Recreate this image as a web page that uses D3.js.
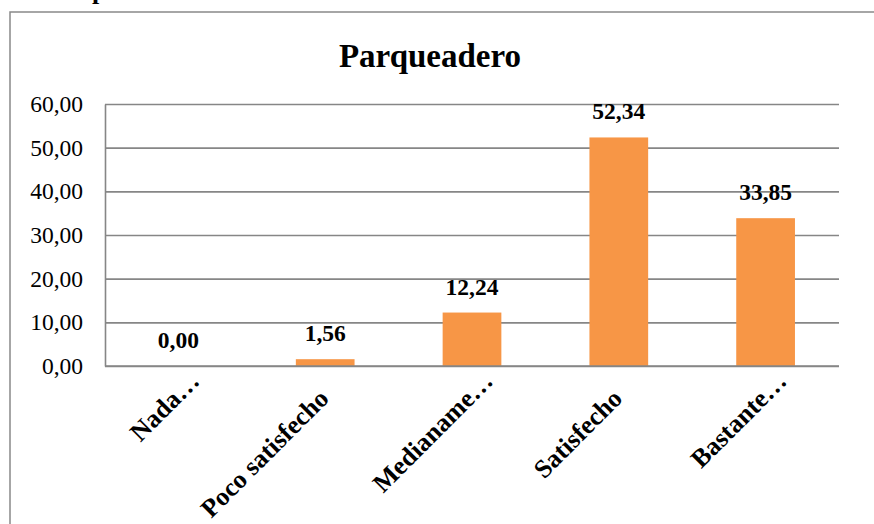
<!DOCTYPE html>
<html>
<head>
<meta charset="utf-8">
<script src="https://cdn.jsdelivr.net/npm/d3@7"></script>
<style>
  body { margin: 0; background: #fff; }
  text { font-family: "Liberation Serif", "Times New Roman", serif; }
</style>
</head>
<body>
<div id="chart"></div>
<script>
// data
var categories = ["Nada…", "Poco satisfecho", "Medianame…", "Satisfecho", "Bastante…"];
var values = [0.00, 1.56, 12.24, 52.34, 33.85];
var yTicks = [0, 10, 20, 30, 40, 50, 60];

var fmt = function(v) { return d3.format(".2f")(v).replace(".", ","); };

var W = 874, H = 524;
var margin = {top: 104, right: 35, bottom: 158, left: 105},
    width = W - margin.left - margin.right,
    height = H - margin.top - margin.bottom;

var svg = d3.select("#chart").append("svg")
    .attr("width", W)
    .attr("height", H);

// outer chart border (cut off at right / bottom)
svg.append("rect")
    .attr("x", 10).attr("y", 12)
    .attr("width", 900).attr("height", 600)
    .attr("fill", "none")
    .attr("stroke", "#898989")
    .attr("stroke-width", 1.5);

// cropped text above the chart
svg.append("text")
    .attr("x", 92).attr("y", -1)
    .style("font-size", "26px").style("font-weight", "bold")
    .text("p");

// title
svg.append("text")
    .attr("x", 430).attr("y", 67)
    .attr("text-anchor", "middle")
    .style("font-size", "33px").style("font-weight", "bold")
    .text("Parqueadero");

var g = svg.append("g")
    .attr("transform", "translate(" + margin.left + "," + margin.top + ")");

var x = d3.scaleBand().domain(categories).range([0, width]).paddingInner(0.6).paddingOuter(0.3);
var y = d3.scaleLinear().domain([0, 60]).range([height, 0]);

// gridlines
g.append("g")
    .call(d3.axisLeft(y).tickValues(yTicks).tickSize(-width).tickFormat(""))
    .call(function(s) { s.select(".domain").remove(); })
    .selectAll("line")
    .attr("stroke", "#868686").attr("stroke-width", 1.6);

// y axis labels
g.append("g")
    .call(d3.axisLeft(y).tickValues(yTicks).tickSize(0).tickPadding(22).tickFormat(fmt))
    .call(function(s) {
      s.select(".domain").attr("stroke", "#868686").attr("stroke-width", 1.6);
      s.selectAll("text")
        .attr("fill", "#000")
        .style("font-size", "23.5px")
        .style("font-family", "'Liberation Serif', 'Times New Roman', serif");
    });

// bars
g.selectAll(".bar")
    .data(values)
    .enter().append("rect")
    .attr("class", "bar")
    .attr("x", function(d, i) { return x(categories[i]); })
    .attr("y", function(d) { return y(d); })
    .attr("width", x.bandwidth())
    .attr("height", function(d) { return height - y(d); })
    .attr("fill", "#F79646");

// bottom axis line
g.append("line")
    .attr("x1", 0).attr("x2", width)
    .attr("y1", height).attr("y2", height)
    .attr("stroke", "#868686").attr("stroke-width", 1.6);

// value labels
g.selectAll(".val")
    .data(values)
    .enter().append("text")
    .attr("class", "val")
    .attr("x", function(d, i) { return x(categories[i]) + x.bandwidth() / 2; })
    .attr("y", function(d) { return y(d) - 18; })
    .attr("text-anchor", "middle")
    .style("font-size", "23.5px").style("font-weight", "bold")
    .text(fmt);

// category labels, rotated
g.selectAll(".cat")
    .data(categories)
    .enter().append("text")
    .attr("class", "cat")
    .attr("text-anchor", "end")
    .attr("transform", function(d) {
      return "translate(" + (x(d) + x.bandwidth() / 2 + 5) + "," + (height + 34) + ") rotate(-45)";
    })
    .attr("dx", function(d) { return d.slice(-1) === "…" ? "0.95em" : 0; })
    .style("font-size", "26px").style("font-weight", "bold")
    .text(function(d) { return d; });
</script>
</body>
</html>
